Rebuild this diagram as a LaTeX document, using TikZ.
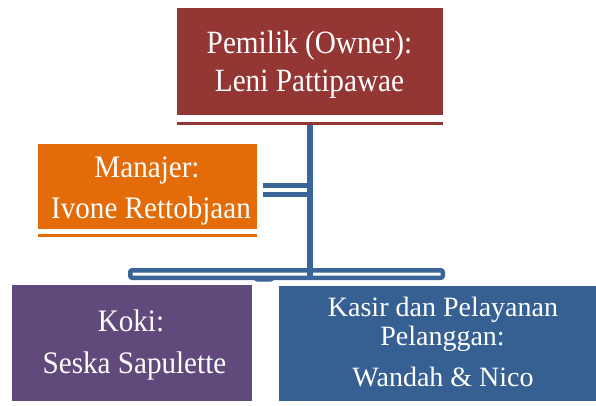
\documentclass[tikz,border=0pt]{standalone}
\usepackage{fontspec}
\setmainfont{Liberation Serif}
\newfontfamily\ownerfont[FakeStretch=0.9]{Liberation Serif}
\newfontfamily\midfont[FakeStretch=0.93]{Liberation Serif}
\definecolor{ownerred}{HTML}{943634}
\definecolor{mgrorange}{HTML}{E36C09}
\definecolor{kokipurple}{HTML}{604A7B}
\definecolor{kasirblue}{HTML}{366092}
\definecolor{linkblue}{HTML}{3B6598}
\begin{document}
\begin{tikzpicture}[x=1pt,y=1pt,
  txt/.style={inner sep=0pt, text=white, anchor=base, font=\midfont\fontsize{31.3}{36}\selectfont},
  otxt/.style={txt, font=\ownerfont\fontsize{32.5}{36}\selectfont},
  ktxt/.style={txt, font=\fontsize{28}{34}\selectfont},
  underbar/.style={line width=3pt},
  link/.style={draw=linkblue, line width=6pt},
  dlink/.style={draw=linkblue, line width=5pt, double=white, double distance=4pt}
]
\useasboundingbox (0,0) rectangle (596,-405);
% owner
\fill[ownerred] (177,-8) rectangle (443,-115);
\node[otxt] (owner1) at (309.5,-53.3) {Pemilik (Owner):};
\node[otxt] (owner2) at (309.5,-91.7) {Leni Pattipawae};
\draw[underbar, ownerred] (177,-123) -- (443,-123);
\coordinate (ownerbase) at (310,-124.5);
% manager
\fill[mgrorange] (38,-144) rectangle (257,-229);
\node[txt] (mgr1) at (147,-177.3) {Manajer:};
\node[txt] (mgr2) at (151,-218) {Ivone Rettobjaan};
\draw[underbar, mgrorange] (38,-235.5) -- (257,-235.5);
% koki
\fill[kokipurple] (12,-285) rectangle (252,-401);
\node[txt] (koki1) at (131,-331) {Koki:};
\node[txt] (koki2) at (134.5,-373) {Seska Sapulette};
% kasir
\fill[kasirblue] (279,-286) rectangle (596,-401);
\node[ktxt] (kasir1) at (443,-316.7) {Kasir dan Pelayanan};
\node[ktxt] (kasir2) at (442.5,-345.3) {Pelanggan:};
\node[ktxt] (kasir3) at (443,-386) {Wandah \& Nico};
% connectors
\coordinate (mgrend) at (263,-190);
\coordinate (stemmid) at (307,-190);
\draw[dlink] (mgrend) -- (stemmid);
\draw[draw=linkblue, line width=2pt, fill=white, rounded corners=2pt]
  (255,-275) rectangle (273,-280.5);
\draw[draw=linkblue, line width=4.5pt, fill=white, rounded corners=2pt]
  (130.25,-270.25) rectangle (442.75,-277.75);
\coordinate (stembot) at (310,-276);
\draw[link] (ownerbase) -- (stembot);
\end{tikzpicture}
\end{document}
